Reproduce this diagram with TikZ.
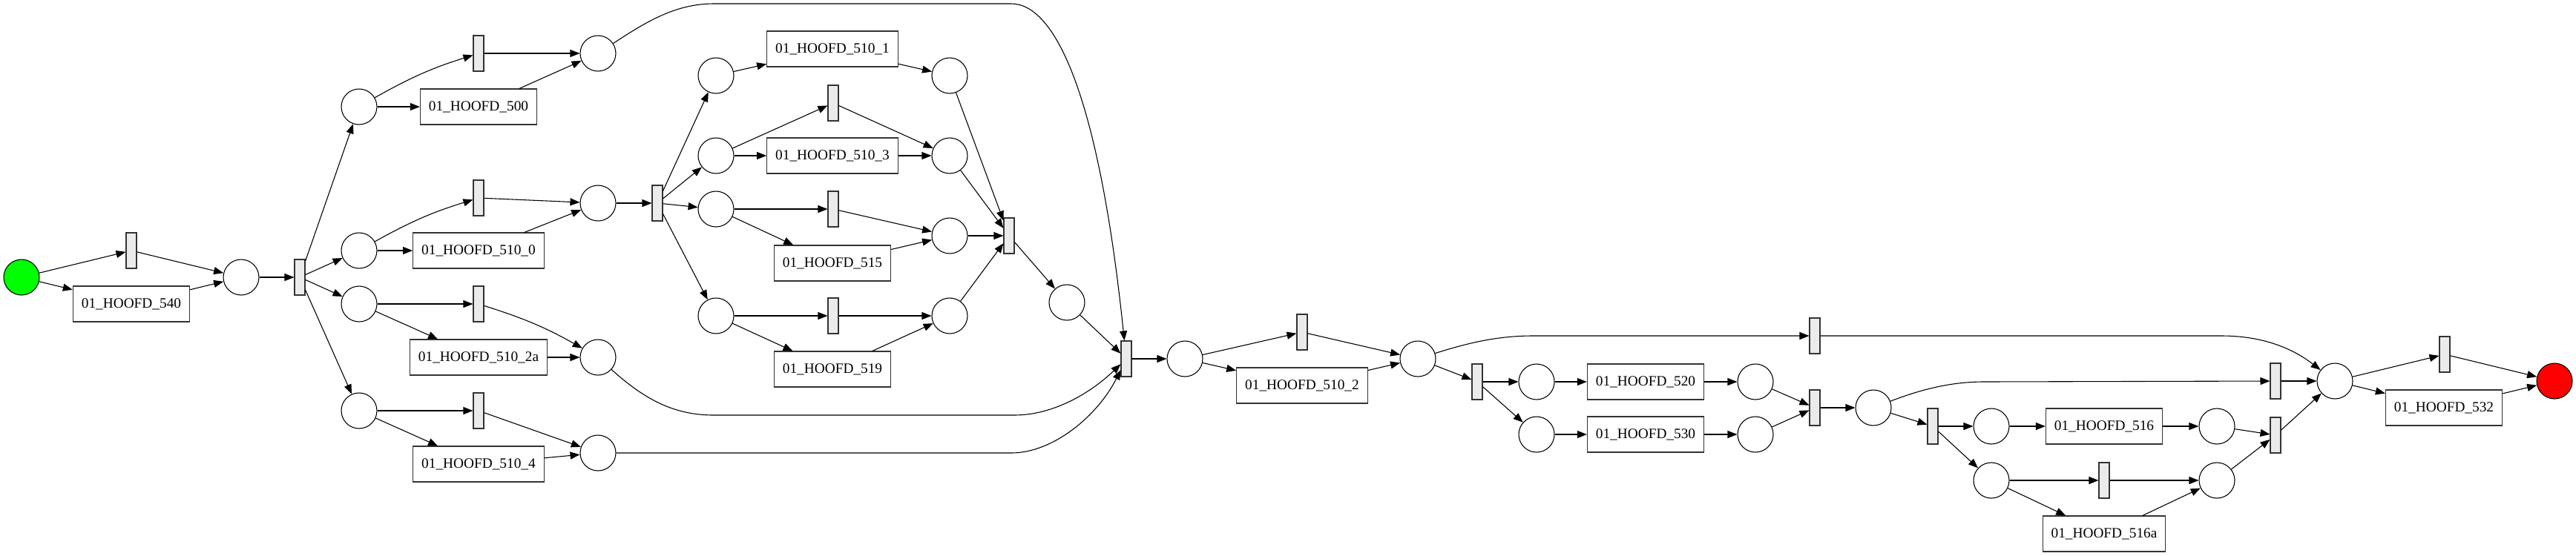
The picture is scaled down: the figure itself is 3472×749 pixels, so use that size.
\documentclass[tikz,border=0pt]{standalone}
\usepackage{fontspec}
\setmainfont{Liberation Serif}
\usepackage{tikz}
\usetikzlibrary{arrows.meta}

\definecolor{tgray}{HTML}{EBEBEB}
\definecolor{bgray}{HTML}{333333}

\begin{document}
\begin{tikzpicture}[x=0.6pt, y=-0.6pt,
        place/.style={shape=circle, draw=black, minimum size=28.8pt, inner sep=0pt, line width=0.65pt},
        trans/.style={shape=rectangle, draw=bgray, fill=tgray, minimum width=8.4pt, minimum height=28.8pt, inner sep=0pt, line width=0.65pt},
        task/.style={shape=rectangle, draw=bgray, minimum height=28.8pt, inner xsep=6.9pt, line width=0.65pt, font=\fontsize{11.6}{13}\selectfont},
        arc/.style={line width=0.65pt, -{Triangle[length=7.8pt, width=6pt]}}]
            \useasboundingbox (0,0) rectangle (3472,749);

            % start
            \node[place, fill=green] (src) at (29,374) {};
            \node[trans] (t1) at (177,338) {};
            \node[task] (a540) at (177,410) {01\_HOOFD\_540};
            \node[place] (p1) at (325,374) {};
            \node[trans] (t2) at (404,374) {};

            % first parallel block
            \node[place] (pA) at (484,144) {};
            \node[trans] (tA) at (645,72) {};
            \node[task] (a500) at (645,144) {01\_HOOFD\_500};
            \node[place] (pA2) at (806,72) {};

            \node[place] (pB) at (484,338) {};
            \node[trans] (tB) at (645,267) {};
            \node[task] (a5100) at (645,338) {01\_HOOFD\_510\_0};
            \node[place] (pB2) at (806,274) {};

            \node[place] (pC) at (484,410) {};
            \node[trans] (tC) at (645,410) {};
            \node[task] (a5102a) at (645,482) {01\_HOOFD\_510\_2a};
            \node[place] (pC2) at (806,482) {};

            \node[place] (pD) at (484,554) {};
            \node[trans] (tD) at (645,554) {};
            \node[task] (a5104) at (645,626) {01\_HOOFD\_510\_4};
            \node[place] (pD2) at (806,611) {};

            % inner parallel block
            \node[trans] (t3) at (886,274) {};

            \node[place] (q1) at (965,102) {};
            \node[task] (a5101) at (1122,66) {01\_HOOFD\_510\_1};
            \node[place] (q1b) at (1280,102) {};

            \node[place] (q2) at (965,210) {};
            \node[trans] (tq2) at (1123,139) {};
            \node[task] (a5103) at (1122,210) {01\_HOOFD\_510\_3};
            \node[place] (q2b) at (1280,210) {};

            \node[place] (q3) at (965,282) {};
            \node[trans] (tq3) at (1123,282) {};
            \node[task] (a515) at (1122,355) {01\_HOOFD\_515};
            \node[place] (q3b) at (1280,318) {};

            \node[place] (q4) at (965,426) {};
            \node[trans] (tq4) at (1123,426) {};
            \node[task] (a519) at (1122,498) {01\_HOOFD\_519};
            \node[place] (q4b) at (1280,426) {};

            \node[trans] (t4) at (1360,318) {};
            \node[place] (r1) at (1438,408) {};
            \node[trans] (t5) at (1518,484) {};

            % middle
            \node[place] (r2) at (1597,484) {};
            \node[trans] (t6) at (1755,448) {};
            \node[task] (a5102) at (1755,520) {01\_HOOFD\_510\_2};
            \node[place] (r3) at (1911,484) {};
            \node[trans] (t7) at (2446,453) {};

            \node[trans] (t8) at (1991,515) {};
            \node[place] (s1) at (2071,515) {};
            \node[task] (a520) at (2218,515) {01\_HOOFD\_520};
            \node[place] (s1b) at (2366,515) {};
            \node[place] (s2) at (2071,586) {};
            \node[task] (a530) at (2218,586) {01\_HOOFD\_530};
            \node[place] (s2b) at (2366,586) {};
            \node[trans] (t9) at (2446,550) {};
            \node[place] (u1) at (2525,550) {};

            \node[trans] (t10) at (3067,514) {};
            \node[trans] (t11) at (2605,575) {};
            \node[place] (w1) at (2684,575) {};
            \node[task] (a516) at (2836,575) {01\_HOOFD\_516};
            \node[place] (w1b) at (2988,575) {};
            \node[place] (w2) at (2684,648) {};
            \node[trans] (t12) at (2836,648) {};
            \node[task] (a516a) at (2836,720) {01\_HOOFD\_516a};
            \node[place] (w2b) at (2988,648) {};
            \node[trans] (t13) at (3067,587) {};

            % end
            \node[place] (v) at (3147,514) {};
            \node[trans] (t14) at (3295,478) {};
            \node[task] (a532) at (3294,550) {01\_HOOFD\_532};
            \node[place, fill=red] (sink) at (3443,514) {};

            \path [arc] (src) edge (t1);
            \path [arc] (src) edge (a540);
            \path [arc] (t1) edge (p1);
            \path [arc] (a540) edge (p1);
            \path [arc] (p1) edge (t2);

            \path [arc] (t2) edge (pA);
            \path [arc] (t2) edge (pB);
            \path [arc] (t2) edge (pC);
            \path [arc] (t2) edge (pD);

            \path [arc] (pA) edge[bend left=6] (tA);
            \path [arc] (pA) edge (a500);
            \path [arc] (tA) edge (pA2);
            \path [arc] (a500) edge (pA2);

            \path [arc] (pB) edge[bend left=6] (tB);
            \path [arc] (pB) edge (a5100);
            \path [arc] (tB) edge (pB2);
            \path [arc] (a5100) edge (pB2);
            \path [arc] (pB2) edge (t3);

            \path [arc] (pC) edge (tC);
            \path [arc] (pC) edge (a5102a);
            \path [arc] (tC) edge[bend left=6] (pC2);
            \path [arc] (a5102a) edge (pC2);

            \path [arc] (pD) edge (tD);
            \path [arc] (pD) edge (a5104);
            \path [arc] (tD) edge (pD2);
            \path [arc] (a5104) edge (pD2);

            \path [arc] (t3) edge (q1);
            \path [arc] (t3) edge (q2);
            \path [arc] (t3) edge (q3);
            \path [arc] (t3) edge (q4);

            \path [arc] (q1) edge (a5101);
            \path [arc] (a5101) edge (q1b);
            \path [arc] (q2) edge (tq2);
            \path [arc] (q2) edge (a5103);
            \path [arc] (tq2) edge (q2b);
            \path [arc] (a5103) edge (q2b);
            \path [arc] (q3) edge (tq3);
            \path [arc] (q3) edge (a515);
            \path [arc] (tq3) edge (q3b);
            \path [arc] (a515) edge (q3b);
            \path [arc] (q4) edge (tq4);
            \path [arc] (q4) edge (a519);
            \path [arc] (tq4) edge (q4b);
            \path [arc] (a519) edge (q4b);

            \path [arc] (q1b) edge (t4);
            \path [arc] (q2b) edge (t4);
            \path [arc] (q3b) edge (t4);
            \path [arc] (q4b) edge (t4);
            \path [arc] (t4) edge (r1);
            \path [arc] (r1) edge (t5);

            % long arcs into the join
            \draw [arc] (pA2) .. controls (870,30) and (910,5) .. (962,5) -- (1363,5)
                .. controls (1420,5) and (1480,120) .. (t5);
            \draw [arc] (pC2) .. controls (870,540) and (910,560) .. (962,560) -- (1367,560)
                .. controls (1420,560) and (1470,530) .. (t5);
            \draw [arc] (pD2) -- (1363,611) .. controls (1420,611) and (1480,560) .. (t5);

            \path [arc] (t5) edge (r2);
            \path [arc] (r2) edge (t6);
            \path [arc] (r2) edge (a5102);
            \path [arc] (t6) edge (r3);
            \path [arc] (a5102) edge (r3);

            \draw [arc] (r3) .. controls (1980,462) and (2020,453) .. (2066,453) -- (t7);
            \draw [arc] (t7) -- (2994,453) .. controls (3050,453) and (3090,470) .. (v);

            \path [arc] (r3) edge (t8);
            \path [arc] (t8) edge (s1);
            \path [arc] (t8) edge (s2);
            \path [arc] (s1) edge (a520);
            \path [arc] (a520) edge (s1b);
            \path [arc] (s2) edge (a530);
            \path [arc] (a530) edge (s2b);
            \path [arc] (s1b) edge (t9);
            \path [arc] (s2b) edge (t9);
            \path [arc] (t9) edge (u1);

            \draw [arc] (u1) .. controls (2590,525) and (2630,515) .. (2674,515) -- (t10);
            \path [arc] (t10) edge (v);

            \path [arc] (u1) edge (t11);
            \path [arc] (t11) edge (w1);
            \path [arc] (t11) edge (w2);
            \path [arc] (w1) edge (a516);
            \path [arc] (a516) edge (w1b);
            \path [arc] (w2) edge (t12);
            \path [arc] (w2) edge (a516a);
            \path [arc] (t12) edge (w2b);
            \path [arc] (a516a) edge (w2b);
            \path [arc] (w1b) edge (t13);
            \path [arc] (w2b) edge (t13);
            \path [arc] (t13) edge (v);

            \path [arc] (v) edge (t14);
            \path [arc] (v) edge (a532);
            \path [arc] (t14) edge (sink);
            \path [arc] (a532) edge (sink);
        \end{tikzpicture}
\end{document}
